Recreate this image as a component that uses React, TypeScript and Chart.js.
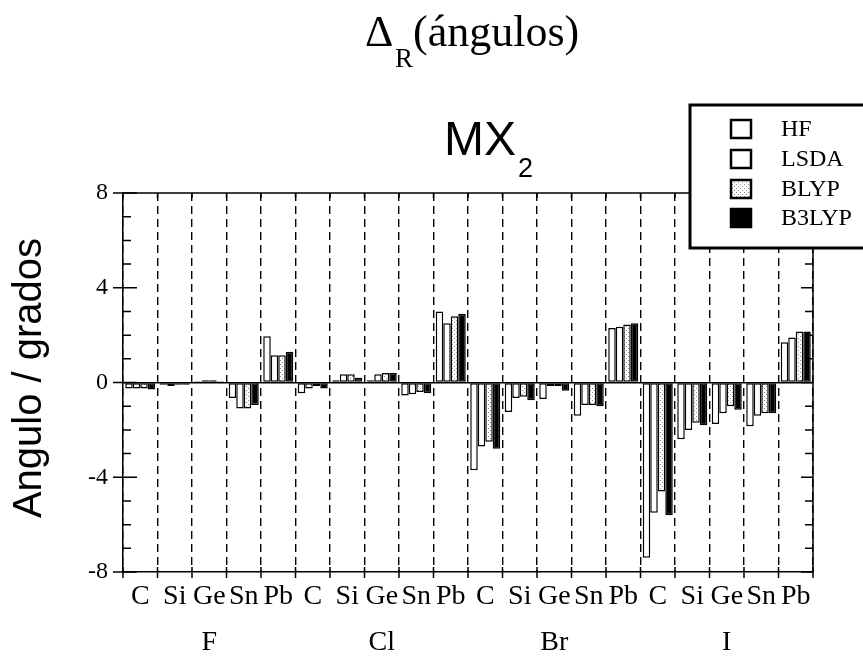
import React, { useEffect, useRef } from "react";
import { Chart, registerables } from "chart.js";
Chart.register(...registerables);

const metals = ["C", "Si", "Ge", "Sn", "Pb"];
const halogens = ["F", "Cl", "Br", "I"];
const categories = halogens.flatMap(() => metals);
const methods = ["HF", "LSDA", "BLYP", "B3LYP"];

const hf = [-0.25, -0.1, 0.05, -0.65, 1.95, -0.45, 0.1, 0.1, -0.55, 3.0, -3.7, -1.25, -0.7, -1.4, 2.3, -7.4, -2.4, -1.75, -1.85, 1.7];
const lsda = [-0.25, -0.15, 0.1, -1.1, 1.15, -0.25, 0.35, 0.35, -0.5, 2.5, -2.7, -0.65, -0.15, -0.95, 2.35, -5.5, -2.0, -1.3, -1.4, 1.9];
const blyp = [-0.25, -0.1, 0.1, -1.1, 1.15, -0.15, 0.35, 0.4, -0.4, 2.8, -2.5, -0.6, -0.15, -0.95, 2.45, -4.6, -1.7, -1.0, -1.3, 2.15];
const b3lyp = [-0.3, -0.1, 0.05, -0.95, 1.3, -0.25, 0.2, 0.4, -0.45, 2.9, -2.8, -0.75, -0.35, -1.0, 2.5, -5.6, -1.8, -1.15, -1.3, 2.15];

const yMin = -8;
const yMax = 8;
const yStep = 4;

const SERIF = "'Liberation Serif', 'Times New Roman', serif";
const SANS = "'Liberation Sans', Arial, sans-serif";

function makeDots(): CanvasPattern | string {
  const c = document.createElement("canvas");
  c.width = 4;
  c.height = 4;
  const g = c.getContext("2d");
  if (!g) return "#fff";
  g.fillStyle = "#fff";
  g.fillRect(0, 0, 4, 4);
  g.fillStyle = "#888";
  g.fillRect(0, 0, 1, 1);
  g.fillRect(2, 2, 1, 1);
  const p = g.createPattern(c, "repeat");
  return p || "#fff";
}

const decoPlugin = {
  id: "deco",
  afterDraw(chart: any) {
    const { ctx, chartArea: a, scales } = chart;
    const x = scales.x;
    const y = scales.y;
    ctx.save();
    ctx.strokeStyle = "#000";
    ctx.lineWidth = 1.5;
    ctx.setLineDash([]);
    // top and right frame
    ctx.beginPath();
    ctx.moveTo(a.left, a.top);
    ctx.lineTo(a.right, a.top);
    ctx.lineTo(a.right, a.bottom);
    ctx.stroke();
    // y ticks (major & minor)
    for (let v = yMin; v <= yMax; v++) {
      const py = y.getPixelForValue(v);
      const major = v % yStep === 0;
      ctx.beginPath();
      ctx.moveTo(a.left - (major ? 10 : 0), py);
      ctx.lineTo(a.left + (major ? 14 : 8), py);
      ctx.moveTo(a.right - (major ? 12 : 8), py);
      ctx.lineTo(a.right, py);
      ctx.stroke();
    }
    // x ticks at category boundaries
    for (let i = 0; i <= categories.length; i++) {
      const px = x.getPixelForValue(i - 0.5);
      ctx.beginPath();
      ctx.moveTo(px, a.bottom - 5);
      ctx.lineTo(px, a.bottom + 6);
      ctx.moveTo(px, a.top);
      ctx.lineTo(px, a.top + 5);
      ctx.stroke();
    }
    // group labels
    ctx.fillStyle = "#000";
    ctx.font = `28px ${SERIF}`;
    ctx.textAlign = "center";
    ctx.textBaseline = "alphabetic";
    halogens.forEach((h, g) => {
      const px = x.getPixelForValue(g * metals.length + 2);
      ctx.fillText(h, px, 650);
    });

    // main title: Δ_R(ángulos)
    ctx.textAlign = "left";
    ctx.font = `44px ${SERIF}`;
    ctx.fillText("Δ", 365, 46);
    ctx.font = `27px ${SERIF}`;
    ctx.fillText("R", 395, 67);
    ctx.font = `44px ${SERIF}`;
    ctx.fillText("(ángulos)", 413, 46);

    // MX2
    ctx.font = `48px ${SANS}`;
    ctx.fillText("MX", 444, 155);
    ctx.font = `27px ${SANS}`;
    ctx.fillText("2", 518, 177);

    // y axis title
    ctx.save();
    ctx.translate(41, 378);
    ctx.rotate(-Math.PI / 2);
    ctx.textAlign = "center";
    ctx.font = `40px ${SANS}`;
    ctx.fillText("Angulo / grados", 0, 0);
    ctx.restore();

    // legend
    const lx = 690, ly = 105, lw = 185, lh = 143;
    ctx.fillStyle = "#fff";
    ctx.fillRect(lx, ly, lw, lh);
    ctx.lineWidth = 3;
    ctx.strokeStyle = "#000";
    ctx.strokeRect(lx, ly, lw, lh);
    const rows = [129, 159, 189, 218];
    chart.data.datasets.forEach((ds: any, i: number) => {
      const cy = rows[i];
      ctx.fillStyle = ds.backgroundColor;
      ctx.fillRect(731, cy - 9, 20, 18);
      ctx.lineWidth = 2.5;
      ctx.strokeStyle = "#000";
      ctx.strokeRect(731, cy - 9, 20, 18);
      ctx.fillStyle = "#000";
      ctx.font = `24px ${SERIF}`;
      ctx.textAlign = "left";
      ctx.textBaseline = "middle";
      ctx.fillText(ds.label, 781, cy + 1);
    });
    ctx.restore();
  },
};

export default function App() {
  const ref = useRef<HTMLCanvasElement | null>(null);
  useEffect(() => {
    if (!ref.current) return;
    const dots = makeDots();
    const series = [hf, lsda, blyp, b3lyp];
    const fills: any[] = ["#fff", "#fff", dots, "#000"];
    const chart = new Chart(ref.current, {
      type: "bar",
      data: {
        labels: categories,
        datasets: methods.map((m, i) => ({
          label: m,
          data: series[i],
          backgroundColor: fills[i],
          borderColor: "#000",
          borderWidth: 1.5,
          borderSkipped: false,
          categoryPercentage: 0.87,
          barPercentage: 1.0,
        })),
      },
      options: {
        responsive: false,
        animation: false,
        events: [],
        layout: { padding: { top: 193, right: 50, bottom: 0, left: 0 } },
        plugins: { legend: { display: false }, tooltip: { enabled: false }, title: { display: false } },
        scales: {
          x: {
            type: "category",
            offset: true,
            afterFit: (s: any) => { s.height = 86; },
            grid: {
              offset: true,
              color: "#000",
              lineWidth: 1.4,
              drawTicks: false,
            },
            border: { display: true, color: "#000", width: 1.5, dash: [8, 5] },
            ticks: {
              autoSkip: false,
              maxRotation: 0,
              minRotation: 0,
              padding: 8,
              color: "#000",
              font: { family: SERIF, size: 28 },
            },
          },
          y: {
            min: yMin,
            max: yMax,
            afterFit: (s: any) => { s.width = 123; },
            grid: {
              color: (c: any) => (c.tick && c.tick.value === 0 ? "#000" : "rgba(0,0,0,0)"),
              lineWidth: 1.5,
              drawTicks: false,
            },
            border: { display: true, color: "#000", width: 1.5 },
            ticks: {
              stepSize: yStep,
              padding: 15,
              color: "#000",
              font: { family: SERIF, size: 24 },
            },
          },
        },
      },
      plugins: [decoPlugin],
    });
    return () => chart.destroy();
  }, []);
  return (
    <div style={{ position: "absolute", left: 0, top: 0, width: 863, height: 658, background: "#fff" }}>
      <canvas ref={ref} width={863} height={658} style={{ display: "block" }} />
    </div>
  );
}
